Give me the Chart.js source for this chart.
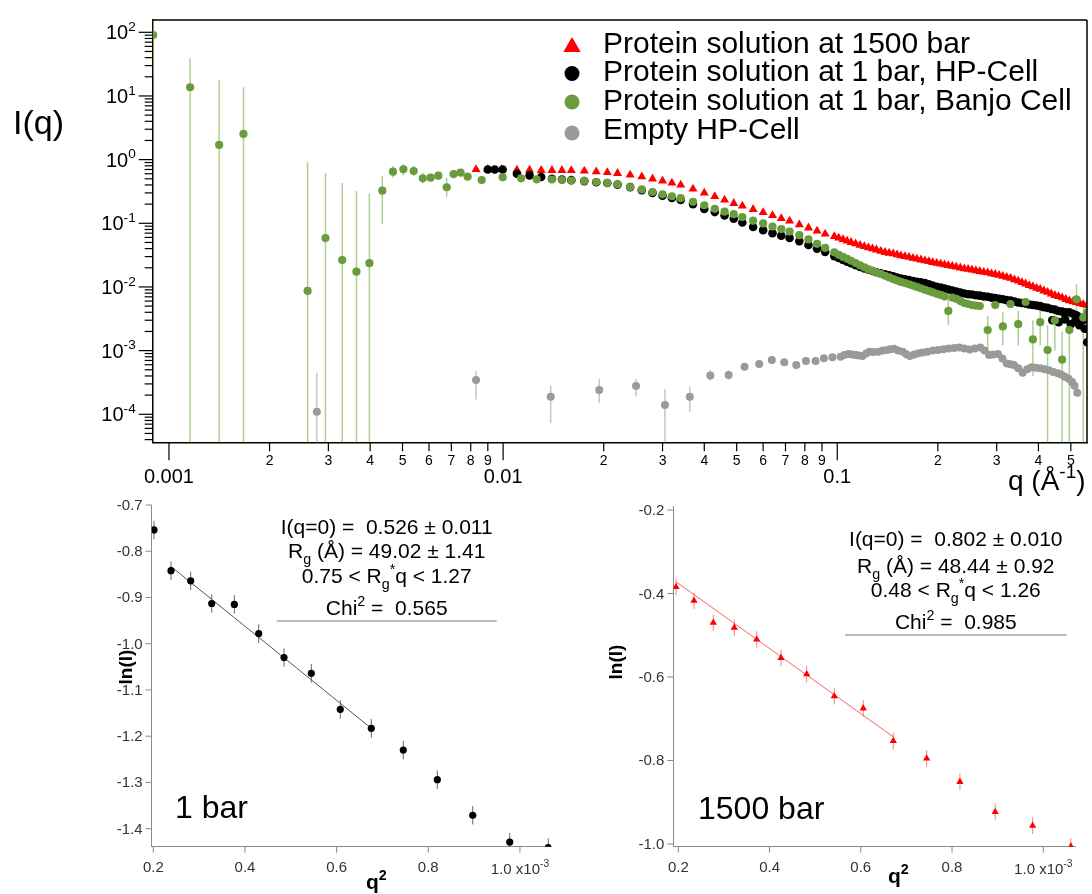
<!DOCTYPE html>
<html>
<head>
<meta charset="utf-8">
<script src="https://cdn.jsdelivr.net/npm/chart.js@4.4.1/dist/chart.umd.min.js"></script>
<style>
  body { margin: 0; background: #fff; width: 1092px; height: 894px; position: relative; overflow: hidden; }
  canvas { position: absolute; }
</style>
</head>
<body>
<canvas id="gLeft" width="560" height="414" style="left:0;top:480px"></canvas>
<canvas id="gRight" width="532" height="414" style="left:560px;top:480px"></canvas>
<canvas id="top" width="1092" height="505" style="left:0;top:0;z-index:2"></canvas>
<script>
// ---------- top panel: I(q) vs q (1/Å), log-log ----------
const redQ = [0.0083, 0.009, 0.0099, 0.011, 0.012, 0.013, 0.014, 0.015, 0.016, 0.0175,
  0.019, 0.0205, 0.022, 0.024, 0.026, 0.028, 0.030, 0.032, 0.034, 0.037,
  0.040, 0.043, 0.046, 0.049, 0.052, 0.056, 0.060, 0.064, 0.068, 0.072,
  0.077, 0.082, 0.087, 0.092, 0.098, 0.104, 0.110, 0.117, 0.124, 0.131,
  0.139, 0.147, 0.155, 0.164, 0.173, 0.183, 0.193, 0.204, 0.215, 0.227,
  0.240, 0.253, 0.267, 0.282, 0.297, 0.313, 0.330, 0.348, 0.366, 0.385,
  0.405, 0.426, 0.448, 0.471, 0.495, 0.520, 0.545, 0.560,
  0.101, 0.107, 0.1135, 0.1205, 0.1275, 0.135, 0.143, 0.151, 0.1595, 0.1685,
  0.178, 0.188, 0.1985, 0.2095, 0.221, 0.2335, 0.2465, 0.26, 0.2745, 0.2895,
  0.305, 0.3215, 0.339, 0.357, 0.3755, 0.395, 0.4155, 0.437, 0.4595, 0.483,
  0.5075, 0.5325];
const redI = [0.70, 0.70, 0.70, 0.687, 0.687, 0.68, 0.68, 0.68, 0.675, 0.663,
  0.645, 0.63, 0.61, 0.574, 0.54, 0.50, 0.465, 0.429, 0.40, 0.346,
  0.30, 0.264, 0.232, 0.206, 0.188, 0.166, 0.148, 0.133, 0.119, 0.109,
  0.095, 0.085, 0.076, 0.068, 0.062, 0.0557, 0.0503, 0.0452, 0.0414, 0.0383,
  0.0350, 0.0332, 0.0310, 0.0293, 0.0275, 0.0259, 0.0243, 0.0230, 0.0218, 0.0207,
  0.0194, 0.0186, 0.0176, 0.0167, 0.0158, 0.0148, 0.0137, 0.0124, 0.0112, 0.0101,
  0.0092, 0.0083, 0.0074, 0.0068, 0.0061, 0.0057, 0.0053, 0.0052,
  0.059, 0.053, 0.0477, 0.0433, 0.0398, 0.0366, 0.0341, 0.0321, 0.0301, 0.0284,
  0.0267, 0.0251, 0.0236, 0.0224, 0.0212, 0.0200, 0.0190, 0.0181, 0.0171, 0.0162,
  0.0153, 0.0142, 0.0130, 0.0118, 0.0106, 0.0096, 0.0087, 0.0078, 0.0071, 0.0064,
  0.0059, 0.0055];

const blackQ = [0.009, 0.00944, 0.00997, 0.011, 0.012, 0.013,
  0.014, 0.015, 0.016, 0.0175, 0.019, 0.0205, 0.022, 0.024, 0.026, 0.028,
  0.030, 0.032, 0.034, 0.037, 0.040, 0.043, 0.046, 0.049, 0.052, 0.056,
  0.060, 0.064, 0.068, 0.072, 0.077, 0.082, 0.087, 0.092, 0.098, 0.104,
  0.110, 0.117, 0.124, 0.131, 0.139, 0.147, 0.155, 0.164, 0.173, 0.183,
  0.193, 0.204, 0.215, 0.227, 0.240, 0.253, 0.267, 0.282, 0.297, 0.313,
  0.330, 0.348, 0.366, 0.385, 0.405, 0.426, 0.448, 0.471, 0.495, 0.520,
  0.545, 0.560,
  0.44, 0.46, 0.48, 0.50, 0.515, 0.53, 0.55,
  0.101, 0.107, 0.1135, 0.1205, 0.1275, 0.135, 0.143, 0.151, 0.1595, 0.1685,
  0.178, 0.188, 0.1985, 0.2095, 0.221, 0.2335, 0.2465, 0.26, 0.2745, 0.2895,
  0.305, 0.3215, 0.339, 0.357, 0.3755, 0.395, 0.4155, 0.437, 0.4595, 0.483,
  0.5075, 0.5325];
const blackI = [0.70, 0.70, 0.70, 0.60, 0.565, 0.534,
  0.50, 0.487, 0.476, 0.46, 0.44, 0.43, 0.405, 0.37, 0.33, 0.30,
  0.27, 0.25, 0.232, 0.20, 0.168, 0.15, 0.133, 0.118, 0.103, 0.0875,
  0.078, 0.070, 0.064, 0.059, 0.0525, 0.0457, 0.040, 0.0356, 0.0305, 0.0265,
  0.0235, 0.0207, 0.0186, 0.0170, 0.0158, 0.0147, 0.0136, 0.0128, 0.0121, 0.0115,
  0.0105, 0.0098, 0.0091, 0.0085, 0.0079, 0.0076, 0.0073, 0.0070, 0.0067, 0.0064,
  0.0061, 0.0057, 0.0055, 0.0052, 0.0050, 0.0047, 0.0044, 0.0041, 0.0040, 0.0036,
  0.0030, 0.00135,
  0.0030, 0.0028, 0.0031, 0.0026, 0.0029, 0.0025, 0.0022,
  0.0285, 0.025, 0.022, 0.0196, 0.0178, 0.0164, 0.0152, 0.0141, 0.0132, 0.0124,
  0.0118, 0.0110, 0.0101, 0.0094, 0.0088, 0.0082, 0.0077, 0.0074, 0.0071, 0.0068,
  0.0065, 0.0062, 0.0059, 0.0056, 0.0053, 0.0051, 0.0048, 0.0045, 0.0042, 0.0040,
  0.0038, 0.0033];

const greenQ = [0.000897, 0.001157, 0.001413, 0.001671, 0.0026, 0.00294, 0.0033, 0.00364, 0.00398, 0.00435,
  0.00468, 0.00503, 0.0054, 0.00575, 0.00607, 0.0064, 0.00678, 0.00711, 0.00746, 0.00783,
  0.00863, 0.00997, 0.01132, 0.0126,
  0.014, 0.015, 0.016, 0.0175, 0.019, 0.0205, 0.022, 0.024, 0.026, 0.028,
  0.030, 0.032, 0.034, 0.037, 0.040, 0.043, 0.046, 0.049, 0.052, 0.056,
  0.060, 0.064, 0.068, 0.072, 0.077, 0.082, 0.087, 0.092, 0.098, 0.104,
  0.110, 0.117, 0.124, 0.131, 0.139, 0.147, 0.155, 0.164, 0.173, 0.183,
  0.193, 0.204, 0.215, 0.227, 0.240, 0.253, 0.267, 0.282, 0.297, 0.313,
  0.330, 0.348, 0.366, 0.385, 0.405, 0.426, 0.448, 0.471, 0.495, 0.520,
  0.545, 0.560,
  0.101, 0.107, 0.1135, 0.1205, 0.1275, 0.135, 0.143, 0.151, 0.1595, 0.1685,
  0.178, 0.188, 0.1985, 0.2095, 0.221, 0.2335, 0.2465, 0.26];
const greenI = [90.7, 13.7, 1.70, 2.53, 0.00865, 0.0587, 0.0265, 0.0174, 0.0236, 0.325,
  0.647, 0.705, 0.663, 0.509, 0.52, 0.56, 0.368, 0.594, 0.624, 0.54,
  0.479, 0.528, 0.509, 0.49,
  0.487, 0.479, 0.47, 0.462, 0.445, 0.43, 0.41, 0.37, 0.34, 0.31,
  0.285, 0.266, 0.248, 0.218, 0.192, 0.169, 0.152, 0.139, 0.125, 0.110,
  0.0995, 0.089, 0.081, 0.074, 0.065, 0.0557, 0.0475, 0.041, 0.035, 0.0296,
  0.0258, 0.0218, 0.0188, 0.0170, 0.0150, 0.0133, 0.0120, 0.0110, 0.0100, 0.0090,
  0.0082, 0.0075, 0.0042, 0.0065, 0.0056, 0.0052, 0.0050, 0.0021, 0.0052, 0.0024,
  0.0054, 0.0026, 0.0058, 0.0015, 0.0028, 0.00102, 0.0030, 0.00072, 0.0021, 0.0064,
  0.0033, 0.0040,
  0.032, 0.0277, 0.0238, 0.0203, 0.0179, 0.0160, 0.0141, 0.0126, 0.0115, 0.0105,
  0.0095, 0.0086, 0.0078, 0.0071, 0.0068, 0.0060, 0.0054, 0.0051];
// error bars of the Banjo-cell data (lower / upper intensity)
const greenErrQ = [0.000897, 0.001157, 0.001413, 0.001671, 0.0026, 0.00294, 0.0033, 0.00364, 0.00398, 0.00435,
  0.00468, 0.00503, 0.0054, 0.00575, 0.00607, 0.0064, 0.00678, 0.00711, 0.00746, 0.00783,
  0.215, 0.282, 0.313, 0.348, 0.385, 0.405, 0.426, 0.448, 0.471, 0.495, 0.520, 0.545, 0.560];
const greenErrLo = [19.9, 1e-5, 1e-5, 1e-5, 1e-5, 1e-5, 1e-5, 1e-5, 1e-5, 0.0975,
  0.52, 0.57, 0.55, 0.42, 0.45, 0.48, 0.26, 0.52, 0.55, 0.48,
  0.0025, 0.0010, 0.0012, 0.0012, 0.0004, 0.0012, 1e-5, 0.0010, 1e-5, 1e-5, 0.0025, 1e-5, 0.0015];
const greenErrHi = [160, 39, 17.8, 13.7, 0.91, 0.61, 0.43, 0.325, 0.296, 0.56,
  0.80, 0.86, 0.80, 0.62, 0.60, 0.65, 0.52, 0.68, 0.70, 0.60,
  0.0065, 0.0035, 0.0040, 0.0042, 0.0030, 0.0045, 0.0025, 0.0050, 0.0020, 0.0040, 0.0110, 0.0060, 0.0070];

const grayQ = [0.00277, 0.0083, 0.01388, 0.0194, 0.025, 0.0305, 0.0362, 0.0417, 0.0473, 0.0528,
  0.0584, 0.0637, 0.0694, 0.0754, 0.0806, 0.0861, 0.0912, 0.0967, 0.1023, 0.1081,
  0.1138, 0.1189, 0.1248, 0.1327, 0.141, 0.148, 0.157, 0.165, 0.175, 0.186,
  0.2003, 0.2156, 0.232, 0.249, 0.268, 0.2847, 0.3026, 0.3215, 0.3377, 0.3588,
  0.3813, 0.405, 0.4302, 0.4572, 0.48, 0.504, 0.5228,
  0.105, 0.111, 0.116, 0.122, 0.128, 0.137, 0.144, 0.152, 0.161, 0.170,
  0.180, 0.193, 0.208, 0.224, 0.240, 0.258, 0.276, 0.293, 0.312, 0.330,
  0.348, 0.370, 0.393, 0.417, 0.443, 0.468, 0.492, 0.513];
const grayI = [1.10e-4, 3.46e-4, 1.89e-4, 2.41e-4, 2.79e-4, 1.40e-4, 1.89e-4, 4.05e-4, 4.15e-4, 5.6e-4,
  6.17e-4, 7.13e-4, 6.56e-4, 5.96e-4, 6.87e-4, 6.87e-4, 7.59e-4, 7.87e-4, 8.04e-4, 8.85e-4,
  8.55e-4, 8.25e-4, 9.62e-4, 9.62e-4, 1.02e-3, 1.07e-3, 9.6e-4, 8.25e-4, 9.1e-4, 9.6e-4,
  1.02e-3, 1.08e-3, 1.12e-3, 1.04e-3, 1.12e-3, 8.55e-4, 8.85e-4, 6.3e-4, 5.96e-4, 4.5e-4,
  5.5e-4, 5.3e-4, 4.9e-4, 4.4e-4, 3.9e-4, 3.25e-4, 2.18e-4,
  8.5e-4, 8.7e-4, 8.4e-4, 9.0e-4, 9.5e-4, 1.0e-3, 1.05e-3, 1.0e-3, 8.8e-4, 8.7e-4,
  9.3e-4, 1.0e-3, 1.05e-3, 1.1e-3, 1.08e-3, 1.08e-3, 1.0e-3, 8.7e-4, 7.5e-4, 6.1e-4,
  5.3e-4, 5.1e-4, 5.4e-4, 5.1e-4, 4.6e-4, 4.2e-4, 3.6e-4, 2.8e-4];
const grayErrQ = [0.00277, 0.0083, 0.01388, 0.0194, 0.025, 0.0305, 0.0362, 0.0417, 0.0473];
const grayErrLo = [1e-5, 1.7e-4, 7.2e-5, 1.5e-4, 1.9e-4, 1e-5, 1.1e-4, 3.4e-4, 3.5e-4];
const grayErrHi = [4.5e-4, 4.8e-4, 2.8e-4, 3.6e-4, 3.6e-4, 2.5e-4, 2.7e-4, 4.9e-4, 4.9e-4];

const legendLabels = ['Protein solution at 1500 bar', 'Protein solution at 1 bar, HP-Cell',
  'Protein solution at 1 bar, Banjo Cell', 'Empty HP-Cell'];
const yDecades = [2, 1, 0, -1, -2, -3, -4];
const xMajor = [0.001, 0.01, 0.1];
const xMajorText = ['0.001', '0.01', '0.1'];
const minorMant = [2, 3, 4, 5, 6, 7, 8, 9];

// ---------- Guinier plots: ln(I) vs q^2 (q^2 in units of 1e-3 Å^-2) ----------
const oneBarQ2 = [0.2015, 0.2386, 0.2816, 0.3274, 0.3768, 0.430, 0.4852, 0.5448, 0.608, 0.6757,
  0.7455, 0.8197, 0.897, 0.9777, 1.0619];
const oneBarLnI = [-0.754, -0.842, -0.864, -0.913, -0.915, -0.978, -1.030, -1.064, -1.142, -1.183,
  -1.230, -1.294, -1.371, -1.429, -1.441];
const oneBarErr = [0.02, 0.02, 0.02, 0.02, 0.02, 0.02, 0.02, 0.02, 0.02, 0.02, 0.02, 0.02, 0.02, 0.02, 0.02];
const oneBarFitQ2 = [0.2386, 0.6757];
const oneBarFitLnI = [-0.833, -1.183];
const oneBarText = ['0.526 ± 0.011', '49.02 ± 1.41', '0.75', '1.27', '0.565'];

const hpQ2 = [0.195, 0.2344, 0.2767, 0.3227, 0.3718, 0.4251, 0.4814, 0.5419, 0.6054, 0.6712,
  0.7444, 0.8173, 0.8947, 0.9767, 1.0606];
const hpLnI = [-0.384, -0.417, -0.470, -0.482, -0.510, -0.554, -0.593, -0.646, -0.675, -0.753,
  -0.795, -0.851, -0.923, -0.956, -1.006];
const hpErr = [0.02, 0.02, 0.02, 0.02, 0.02, 0.02, 0.02, 0.02, 0.02, 0.02, 0.02, 0.02, 0.02, 0.02, 0.02];
const hpFitQ2 = [0.195, 0.671];
const hpFitLnI = [-0.372, -0.743];
const hpText = ['0.802 ± 0.010', '48.44 ± 0.92', '0.48', '1.26', '0.985'];

const oneBarYTicks = [-0.7, -0.8, -0.9, -1.0, -1.1, -1.2, -1.3, -1.4];
const hpYTicks = [-0.2, -0.4, -0.6, -0.8, -1.0];
const q2Ticks = [0.2, 0.4, 0.6, 0.8, 1.0];

const RED = '#ff0000', GREEN = '#6a9b3c', GRAY = '#9a9a9a';
const FONT = '"Liberation Sans", Arial, Helvetica, sans-serif';

function font(size, bold) { return (bold ? 'bold ' : '') + size + 'px ' + FONT; }

// draws text with sub (1) / superscript (2) parts
function rich(ctx, parts, x, y, size, align, bold) {
  let w = 0;
  for (const [t, k] of parts) { ctx.font = font(k ? size * 0.68 : size, bold); w += ctx.measureText(t).width; }
  let cx = align === 'center' ? x - w / 2 : align === 'right' ? x - w : x;
  ctx.textAlign = 'left';
  ctx.textBaseline = 'alphabetic';
  for (const [t, k] of parts) {
    ctx.font = font(k ? size * 0.68 : size, bold);
    const dy = k === 1 ? size * 0.28 : k === 2 ? -size * 0.42 : 0;
    ctx.fillText(t, cx, y + dy);
    cx += ctx.measureText(t).width;
  }
}

function vbars(chart, xs, lo, hi, color, width) {
  const { ctx, chartArea: a, scales: { x, y } } = chart;
  ctx.save();
  ctx.beginPath();
  ctx.rect(a.left, a.top, a.right - a.left, a.bottom - a.top);
  ctx.clip();
  ctx.strokeStyle = color;
  ctx.lineWidth = width;
  xs.forEach((v, i) => {
    const px = x.getPixelForValue(v);
    ctx.beginPath();
    ctx.moveTo(px, y.getPixelForValue(lo[i]));
    ctx.lineTo(px, y.getPixelForValue(hi[i]));
    ctx.stroke();
  });
  ctx.restore();
}

function line(ctx, x1, y1, x2, y2) {
  ctx.beginPath(); ctx.moveTo(x1, y1); ctx.lineTo(x2, y2); ctx.stroke();
}

const topDecor = {
  id: 'topDecor',
  beforeDatasetsDraw(chart) {
    vbars(chart, greenErrQ, greenErrLo, greenErrHi, 'rgba(120,175,80,0.6)', 1.5);
    vbars(chart, grayErrQ, grayErrLo, grayErrHi, '#c6c6c6', 1.5);
  },
  afterDraw(chart) {
    const { ctx, chartArea: a, scales: { x, y } } = chart;
    ctx.save();
    ctx.strokeStyle = '#000';
    ctx.fillStyle = '#000';
    ctx.lineWidth = 1.5;
    line(ctx, a.left, a.top, a.right, a.top);
    line(ctx, a.right, a.top, a.right, a.bottom);

    // y ticks and 10^n labels
    ctx.lineWidth = 1.2;
    [...yDecades, -5].forEach(e => {
      [1, ...minorMant].forEach(m => {
        const v = m * Math.pow(10, e);
        if (v < y.min || v > y.max) return;
        const py = y.getPixelForValue(v);
        line(ctx, a.left - (m === 1 ? 14 : 8), py, a.left, py);
        if (m === 1) rich(ctx, [['10', 0], [String(e), 2]], a.left - 17, py + 7, 20, 'right');
      });
    });

    // x ticks (from the first labelled decade on)
    [-3, -2, -1].forEach(e => {
      [1, ...minorMant].forEach(m => {
        const v = m * Math.pow(10, e);
        if (v < x.min || v > x.max) return;
        const px = x.getPixelForValue(v);
        if (m === 1) {
          line(ctx, px, a.bottom, px, a.bottom + 18);
          const k = xMajor.indexOf(v);
          ctx.font = font(20);
          ctx.textAlign = 'center';
          ctx.fillText(xMajorText[k], px, a.bottom + 41);
        } else {
          line(ctx, px, a.bottom, px, a.bottom + 9);
          ctx.font = font(14);
          ctx.textAlign = 'center';
          ctx.fillText(String(m), px, a.bottom + 23);
        }
      });
    });

    // axis titles
    ctx.font = font(34);
    ctx.textAlign = 'left';
    ctx.fillText('I(q)', 13, 134);
    rich(ctx, [['q (Å', 0], ['-1', 2], [')', 0]], 1008, 490, 28, 'left');

    // legend
    const ds = chart.data.datasets;
    const rows = [47, 73.5, 102, 133];
    const base = [52.7, 81, 110, 139.3];
    ds.forEach((d, i) => {
      ctx.fillStyle = d.backgroundColor;
      ctx.beginPath();
      if (d.pointStyle === 'triangle') {
        const r = 10;
        ctx.moveTo(572, rows[i] - r);
        ctx.lineTo(572 + r * 0.866, rows[i] + r / 2);
        ctx.lineTo(572 - r * 0.866, rows[i] + r / 2);
        ctx.closePath();
      } else {
        ctx.arc(572, rows[i], 7.5, 0, Math.PI * 2);
      }
      ctx.fill();
      ctx.fillStyle = '#000';
      ctx.font = font(30);
      ctx.textAlign = 'left';
      ctx.fillText(d.label, 603, base[i]);
    });
    ctx.restore();
  }
};

const pts = (xs, ys) => xs.map((v, i) => ({ x: v, y: ys[i] }));

new Chart(document.getElementById('top'), {
  type: 'scatter',
  data: {
    datasets: [
      { label: legendLabels[0], data: pts(redQ, redI), pointStyle: 'triangle', pointRadius: 5.2,
        backgroundColor: RED, borderColor: RED, borderWidth: 0, order: 3 },
      { label: legendLabels[1], data: pts(blackQ, blackI), pointStyle: 'circle', pointRadius: 4.3,
        backgroundColor: '#000', borderColor: '#000', borderWidth: 0, order: 2 },
      { label: legendLabels[2], data: pts(greenQ, greenI), pointStyle: 'circle', pointRadius: 4.1,
        backgroundColor: GREEN, borderColor: GREEN, borderWidth: 0, order: 1 },
      { label: legendLabels[3], data: pts(grayQ, grayI), pointStyle: 'circle', pointRadius: 4,
        backgroundColor: GRAY, borderColor: GRAY, borderWidth: 0, order: 4 }
    ]
  },
  options: {
    responsive: false, animation: false, events: [],
    layout: { autoPadding: false, padding: { top: 20, right: 5, left: 0, bottom: 0 } },
    plugins: { legend: { display: false }, tooltip: { enabled: false } },
    scales: {
      x: { type: 'logarithmic', bounds: 'data', min: 0.000894, max: 0.559,
        ticks: { display: false }, grid: { display: false }, border: { color: '#000', width: 1.5 },
        afterFit: s => { s.height = 62.7; } },
      y: { type: 'logarithmic', bounds: 'data', min: 3.63e-5, max: 156,
        ticks: { display: false }, grid: { display: false }, border: { color: '#000', width: 1.5 },
        afterFit: s => { s.width = 152.7; } }
    }
  },
  plugins: [topDecor]
});

// ---------- Guinier panels ----------
function guinier(id, cfg) {
  const deco = {
    id: 'guinierDecor',
    beforeDatasetsDraw(chart) {
      const d = cfg.q2.map((v, i) => cfg.lnI[i] - cfg.err[i]);
      const u = cfg.q2.map((v, i) => cfg.lnI[i] + cfg.err[i]);
      vbars(chart, cfg.q2, d, u, cfg.errColor, 1);
    },
    afterDraw(chart) {
      const { ctx, chartArea: a, scales: { x, y } } = chart;
      ctx.save();
      ctx.strokeStyle = '#8a8a8a';
      ctx.lineWidth = 1;
      ctx.fillStyle = '#333';
      cfg.yTicks.forEach(v => {
        const py = y.getPixelForValue(v);
        line(ctx, a.left - 6, py, a.left, py);
        ctx.font = font(15);
        ctx.textAlign = 'right';
        ctx.fillText(v.toFixed(1), a.left - 9, py + 5);
      });
      q2Ticks.forEach((v, i) => {
        const px = x.getPixelForValue(v);
        line(ctx, px, a.bottom, px, a.bottom + 6);
        if (i === q2Ticks.length - 1) {
          rich(ctx, [[v.toFixed(1) + ' x10', 0], ['-3', 2]], px, a.bottom + 27, 15, 'center');
        } else {
          ctx.font = font(15);
          ctx.textAlign = 'center';
          ctx.fillText(v.toFixed(1), px, a.bottom + 25);
        }
      });
      ctx.fillStyle = '#000';
      // axis titles
      ctx.save();
      ctx.translate(cfg.yTitle[0], cfg.yTitle[1]);
      ctx.rotate(-Math.PI / 2);
      ctx.font = font(19, true);
      ctx.textAlign = 'center';
      ctx.textBaseline = 'middle';
      ctx.fillText('ln(I)', 0, 0);
      ctx.restore();
      rich(ctx, [['q', 0], ['2', 2]], cfg.xTitle[0], cfg.xTitle[1], 21, 'left', true);

      // fit results
      const t = cfg.text, cx = cfg.textX, b = cfg.textY;
      rich(ctx, [['I(q=0) =  ' + t[0], 0]], cx, b[0], 21, 'center');
      rich(ctx, [['R', 0], ['g', 1], [' (Å) = ' + t[1], 0]], cx, b[1], 21, 'center');
      rich(ctx, [[t[2] + ' < R', 0], ['g', 1], ['*', 2], ['q < ' + t[3], 0]], cx, b[2], 21, 'center');
      rich(ctx, [['Chi', 0], ['2', 2], [' =  ' + t[4], 0]], cx, b[3], 21, 'center');
      ctx.strokeStyle = '#777';
      line(ctx, cfg.rule[0], cfg.rule[2], cfg.rule[1], cfg.rule[2]);
      ctx.font = font(32);
      ctx.textAlign = 'left';
      ctx.fillText(cfg.label, cfg.labelPos[0], cfg.labelPos[1]);
      ctx.restore();
    }
  };

  new Chart(document.getElementById(id), {
    type: 'scatter',
    data: {
      datasets: [
        { data: pts(cfg.q2, cfg.lnI), pointStyle: cfg.style, pointRadius: cfg.radius,
          backgroundColor: cfg.color, borderColor: cfg.color, borderWidth: 0, order: 1 },
        { data: pts(cfg.fitQ2, cfg.fitLnI), showLine: true, pointRadius: 0,
          borderColor: cfg.fitColor, borderWidth: 1, order: 2 }
      ]
    },
    options: {
      responsive: false, animation: false, events: [],
      layout: { autoPadding: false, padding: cfg.pad },
      plugins: { legend: { display: false }, tooltip: { enabled: false } },
      scales: {
        x: { type: 'linear', bounds: 'data', min: cfg.xr[0], max: cfg.xr[1],
          ticks: { display: false }, grid: { display: false }, border: { color: '#8a8a8a', width: 1 },
          afterFit: s => { s.height = 47.3; } },
        y: { type: 'linear', bounds: 'data', min: cfg.yr[0], max: cfg.yr[1],
          ticks: { display: false }, grid: { display: false }, border: { color: '#8a8a8a', width: 1 },
          afterFit: s => { s.width = cfg.yw; } }
      }
    },
    plugins: [deco]
  });
}

guinier('gLeft', {
  q2: oneBarQ2, lnI: oneBarLnI, err: oneBarErr, fitQ2: oneBarFitQ2, fitLnI: oneBarFitLnI,
  text: oneBarText, yTicks: oneBarYTicks, label: '1 bar',
  style: 'circle', radius: 3.6, color: '#000', errColor: '#666', fitColor: '#555',
  xr: [0.1965, 1.068], yr: [-1.439, -0.7], yw: 151.7,
  pad: { top: 25, right: 8.9, left: 0, bottom: 0 },
  yTitle: [127, 187], xTitle: [366, 409],
  textX: 386.7, textY: [53.8, 78.3, 102.7, 135], rule: [276.7, 496.7, 141],
  labelPos: [175, 338.3]
});

guinier('gRight', {
  q2: hpQ2, lnI: hpLnI, err: hpErr, fitQ2: hpFitQ2, fitLnI: hpFitLnI,
  text: hpText, yTicks: hpYTicks, label: '1500 bar',
  style: 'triangle', radius: 4.2, color: RED, errColor: '#ff8080', fitColor: '#ff6060',
  xr: [0.189, 1.0696], yr: [-1.0065, -0.192], yw: 113.3,
  pad: { top: 26.7, right: 17, left: 0, bottom: 0 },
  yTitle: [57, 182], xTitle: [328, 403],
  textX: 395.8, textY: [66, 92.7, 117.3, 149.3], rule: [285, 506.7, 155],
  labelPos: [138, 339]
});
</script>
</body>
</html>
